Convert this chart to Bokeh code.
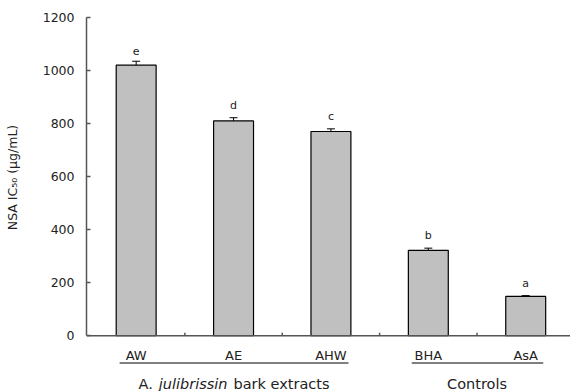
from bokeh.plotting import figure
from bokeh.layouts import column
from bokeh.models import (ColumnDataSource, FixedTicker, Span, Whisker,
                          TeeHead, Range1d)
from bokeh.core.properties import value
from bokeh.embed import file_html
from bokeh.resources import INLINE

# ---- data ----
categories = ["AW", "AE", "AHW", "BHA", "AsA"]
ic50 = [1020, 810, 770, 322, 148]
errors = [15, 12, 10, 8, 3]
letters = ["e", "d", "c", "b", "a"]
group_names = ["A. julibrissin bark extracts", "Controls"]
group_members = [[0, 1, 2], [3, 4]]
y_ticks = [0, 200, 400, 600, 800, 1000, 1200]
y_title = "NSA IC\u2085\u2080 (\u03bcg/mL)"

FONT = "DejaVu Sans"
GRAY = "#555555"
TXT = "#222222"

xs = [i + 0.5 for i in range(len(categories))]
tops = [v + e for v, e in zip(ic50, errors)]

src = ColumnDataSource(dict(x=xs, v=ic50, top=tops, lab=letters, cat=categories))
xr = Range1d(-0.01, 4.96)

# ---------- main chart ----------
p = figure(width=570, height=345, output_backend="svg", toolbar_location=None,
           x_range=xr, y_range=Range1d(-7, 1200),
           x_axis_location=None, min_border_left=86, min_border_right=0,
           min_border_top=17, min_border_bottom=8)
p.outline_line_color = None
p.grid.visible = False

ya = p.yaxis[0]
ya.ticker = FixedTicker(ticks=y_ticks)
ya.bounds = (0, 1200)
ya.axis_line_color = GRAY
ya.axis_line_width = 1.5
ya.major_tick_line_color = GRAY
ya.major_tick_line_width = 1.5
ya.major_tick_in = 4
ya.major_tick_out = 0
ya.minor_tick_line_color = None
ya.major_label_standoff = 12
ya.major_label_text_font = FONT
ya.major_label_text_font_size = "12.5px"
ya.major_label_text_color = TXT
ya.axis_label = y_title
ya.axis_label_standoff = 20
ya.axis_label_text_font = FONT
ya.axis_label_text_font_size = "12.5px"
ya.axis_label_text_font_style = "normal"
ya.axis_label_text_color = TXT

# x baseline and inner ticks between categories
p.add_layout(Span(location=0, dimension="width", line_color=GRAY, line_width=1.5))
sep = list(range(1, len(categories)))
p.segment(x0=sep, x1=sep, y0=[0] * len(sep), y1=[11] * len(sep),
          line_color=GRAY, line_width=1.5)

# bars
p.vbar(x="x", top="v", bottom=0, width=0.41, source=src,
       fill_color="#c0c0c0", line_color="black", line_width=1.2)

# error bars (upper only)
p.add_layout(Whisker(base="x", lower="v", upper="top", source=src,
                     lower_head=None,
                     upper_head=TeeHead(size=8, line_color="black", line_width=1),
                     line_color="black", line_width=1))

# significance letters
p.text(x="x", y="top", text="lab", source=src, text_align="center",
       text_baseline="bottom", y_offset=-6, text_font=value(FONT),
       text_font_size="11px", text_color=TXT)

# ---------- category / group labels strip ----------
b = figure(width=570, height=46, output_backend="svg", toolbar_location=None,
           x_range=xr, y_range=Range1d(46, 0),
           x_axis_location=None, y_axis_location=None,
           min_border_left=86, min_border_right=0,
           min_border_top=0, min_border_bottom=0)
b.outline_line_color = None
b.grid.visible = False

b.text(x="x", y=10, text="cat", source=src, text_align="center",
       text_baseline="middle", text_font=value(FONT),
       text_font_size="13px", text_color=TXT)

ux0 = [xs[m[0]] - 0.17 for m in group_members]
ux1 = [xs[m[-1]] + 0.18 for m in group_members]
b.segment(x0=ux0, x1=ux1, y0=[17.5] * 2, y1=[17.5] * 2,
          line_color="black", line_width=1.2)

pxu = 484 / 4.97  # pixels per data unit along x
gsize = 14.5
words = group_names[0].split(" ")
parts = [words[0], words[1], " ".join(words[2:])]
styles = ["normal", "italic", "normal"]
widths_em = [1.0, 4.75, 7.64]
space_em = 0.4
total_px = (sum(widths_em) + space_em * 2) * gsize
c0 = sum(xs[i] for i in group_members[0]) / len(group_members[0]) + 0.08
acc = c0 - total_px / 2 / pxu
for t, st, w in zip(parts, styles, widths_em):
    b.text(x=[acc], y=[38], text=[t], text_align="left", text_baseline="middle",
           text_font=value(FONT), text_font_size=f"{gsize}px",
           text_font_style=st, text_color=TXT)
    acc += (w + space_em) * gsize / pxu
c1 = sum(xs[i] for i in group_members[1]) / len(group_members[1])
b.text(x=[c1], y=[38], text=[group_names[1]], text_align="center",
       text_baseline="middle", text_font=value(FONT),
       text_font_size=f"{gsize}px", text_color=TXT)

layout = column(p, b, spacing=0)
open("out.html", "w").write(file_html(layout, INLINE))
